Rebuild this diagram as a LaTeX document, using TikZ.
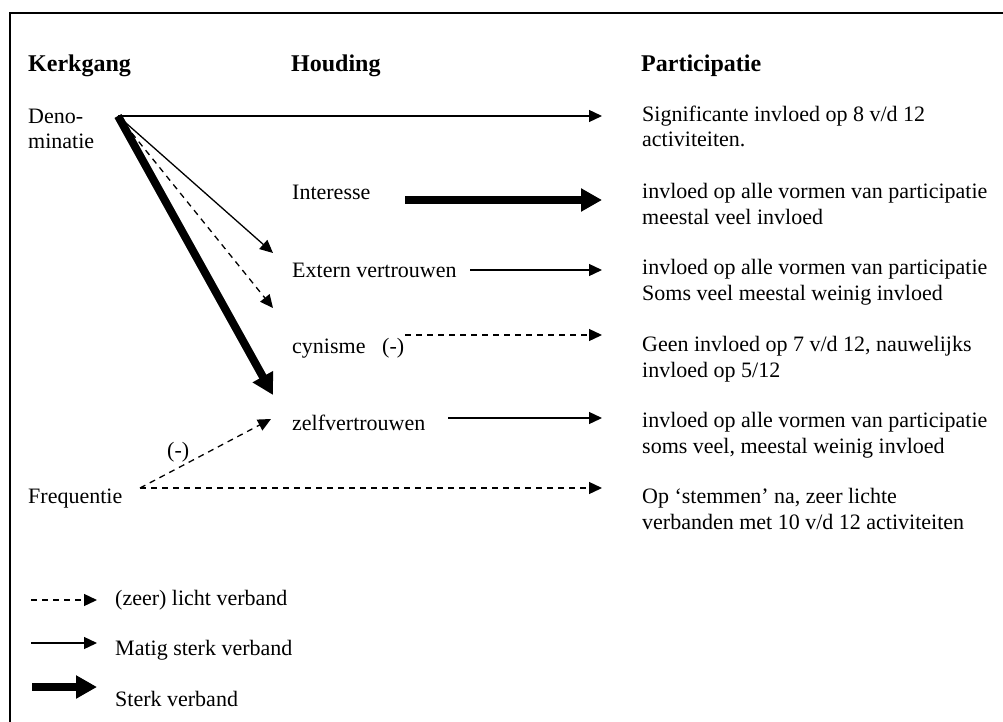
\documentclass[tikz,border=0pt]{standalone}
\usepackage{fontspec}
\setmainfont{Liberation Serif}
\usepackage{tikz}
\usetikzlibrary{arrows.meta}

\begin{document}
\begin{tikzpicture}[x=1pt, y=-1pt]
    \tikzstyle{label text}=[
        anchor = base west,
        inner sep = 0pt,
        align = left,
        font = \fontsize{22}{25.5}\selectfont
    ]
    \tikzstyle{head text}=[
        anchor = base west,
        inner sep = 0pt,
        font = \fontsize{24}{28}\selectfont\bfseries
    ]
    \tikzstyle{thin link}=[
        -{Triangle[length=13pt, width=12pt]},
        line width = 1.3pt
    ]
    \tikzstyle{light link}=[
        thin link,
        dash pattern = on 6pt off 5pt
    ]
    \tikzstyle{strong link}=[
        -{Triangle[length=21pt, width=22pt]},
        line width = 8pt
    ]

    \useasboundingbox (0,0) rectangle (1003,722);
    \draw[line width=2pt] (10,722) -- (10,13) -- (1003,13);

    % kolomkoppen
	\node[head text] (kerk)    at (28, 72)  {Kerkgang};
	\node[head text] (houding) at (291, 72) {Houding};
	\node[head text] (part)    at (641, 72) {Participatie};

    % kerkgang (base = laatste regel)
	\node[label text] (denom) at (28, 149) {Deno-\\minatie};
	\node[label text] (freq)  at (28, 503) {Frequentie};

    % houding
	\node[label text] (interesse) at (292, 200) {Interesse};
	\node[label text] (extern)    at (292, 277) {Extern vertrouwen};
	\node[label text] (cynisme)   at (292, 353) {cynisme};
	\node[label text] (min1)      at (382, 353) {(-)};
	\node[label text] (zelf)      at (292, 430) {zelfvertrouwen};
	\node[label text] (min2)      at (167, 457) {(-)};

    % participatie
	\node[label text] (p1) at (642, 147) {Significante invloed op 8 v/d 12\\activiteiten.};
	\node[label text] (p2) at (642, 224) {invloed op alle vormen van participatie\\meestal veel invloed};
	\node[label text] (p3) at (642, 300) {invloed op alle vormen van participatie\\Soms veel meestal weinig invloed};
	\node[label text] (p4) at (642, 377) {Geen invloed op 7 v/d 12, nauwelijks\\invloed op 5/12};
	\node[label text] (p5) at (642, 453) {invloed op alle vormen van participatie\\soms veel, meestal weinig invloed};
	\node[label text] (p6) at (642, 529) {Op `stemmen' na, zeer lichte\\verbanden met 10 v/d 12 activiteiten};

    % begin- en eindpunten
	\coordinate (d)  at (118, 116);
	\coordinate (f)  at (140, 488);
	\coordinate (e1) at (273, 253);
	\coordinate (e2) at (273, 308);
	\coordinate (e3) at (273, 395);
	\coordinate (e4) at (271, 419);
	\coordinate (i)  at (405, 200);
	\coordinate (x)  at (470, 270);
	\coordinate (c)  at (405, 335);
	\coordinate (z)  at (448, 418);
	\coordinate (r1) at (602, 116);
	\coordinate (r2) at (602, 200);
	\coordinate (r3) at (602, 270);
	\coordinate (r4) at (602, 335);
	\coordinate (r5) at (602, 418);
	\coordinate (r6) at (602, 488);

	\draw[thin link]   (d) -- (r1);
	\draw[thin link]   (d) -- (e1);
	\draw[light link]  (d) -- (e2);
	\draw[strong link] (d) -- (e3);
	\draw[light link]  (f) -- (e4);
	\draw[light link]  (f) -- (r6);
	\draw[strong link] (i) -- (r2);
	\draw[thin link]   (x) -- (r3);
	\draw[light link]  (c) -- (r4);
	\draw[thin link]   (z) -- (r5);

    % legenda
	\coordinate (l1) at (31, 600);
	\coordinate (l2) at (31, 643);
	\coordinate (l3) at (32, 687);
	\coordinate (m1) at (97, 600);
	\coordinate (m2) at (97, 643);
	\coordinate (m3) at (97, 687);
	\draw[light link]  (l1) -- (m1);
	\draw[thin link]   (l2) -- (m2);
	\draw[strong link] (l3) -- (m3);
	\node[label text] (leg1) at (115, 605) {(zeer) licht verband};
	\node[label text] (leg2) at (115, 655) {Matig sterk verband};
	\node[label text] (leg3) at (115, 706) {Sterk verband};

	\end{tikzpicture}
\end{document}
